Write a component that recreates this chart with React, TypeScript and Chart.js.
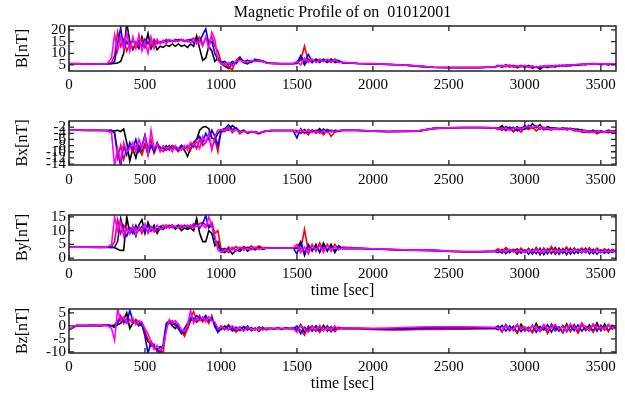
import React, { useEffect, useRef } from "react";
import { Chart, registerables } from "chart.js";

Chart.register(...registerables);

// ---------- data ----------
const TIME = [
  0, 50, 100, 150, 200, 250, 280,
  300, 320, 340, 360, 380, 400, 420, 440, 460, 480, 500, 520,
  540, 560, 580, 600, 620, 640, 660, 680, 700, 720, 740, 760,
  780, 800, 820, 840, 860, 880, 900, 920, 940, 960, 980, 1000,
  1025, 1050, 1075, 1100, 1125, 1150, 1175, 1200,
  1225, 1250, 1275, 1300, 1325, 1350, 1375, 1400,
  1425, 1450, 1475, 1500, 1525, 1550, 1575, 1600,
  1625, 1650, 1675, 1700, 1725, 1750, 1775, 1800,
  1900, 2000, 2100, 2200, 2300, 2400, 2500, 2600, 2700, 2800,
  2825, 2850, 2875, 2900, 2925, 2950, 2975, 3000,
  3025, 3050, 3075, 3100, 3125, 3150, 3175, 3200,
  3225, 3250, 3275, 3300, 3325, 3350, 3375, 3400,
  3425, 3450, 3475, 3500, 3525, 3550, 3575, 3600,
];

const X_TICKS = [0, 500, 1000, 1500, 2000, 2500, 3000, 3500];
const B_TICKS = [5, 10, 15, 20];
const BX_TICKS = [-2, -4, -6, -8, -10, -12, -14];
const BY_TICKS = [0, 5, 10, 15];
const BZ_TICKS = [5, 0, -5, -10];

// |B|
const B_BLACK = [
  5.6, 5.6, 5.5, 5.5, 5.5, 5.5, 5.6,
  5.6, 5.8, 6.5, 10, 23, 15,
  11.5, 14, 12, 17, 13, 18.5,
  12, 15, 11.5, 13, 12.5, 13.5,
  13, 14, 13, 14, 13, 13.5,
  12.5, 14, 13, 17.5, 12, 7,
  8, 13, 11, 6.5, 8, 5.5,
  4.5, 3.5, 5.5, 6, 7.5, 6, 5.5, 6.5,
  7, 6.5, 6.5, 6, 5.8, 5.7, 5.6, 5.6,
  5.6, 5.6, 5.6, 6, 8, 5, 7.5, 6,
  7.5, 6.5, 7, 6, 7.5, 6, 6.5, 6,
  5.6, 5.4, 5.2, 5.0, 4.5, 4.0, 3.9, 3.9, 3.9, 4.1,
  4.8, 4.0, 5.0, 4.2, 4.8, 3.8, 4.6, 4.0,
  4.8, 3.6, 4.4, 3.2, 4.4, 3.8, 4.6, 4.2,
  4.8, 4.4, 4.9, 4.6, 5.2, 4.8, 5.4, 5.0,
  5.5, 5.2, 5.6, 5.0, 5.4, 5.0, 5.5, 5.2,
];
const B_BLUE = [
  5.5, 5.5, 5.4, 5.4, 5.4, 5.4, 5.5,
  6.5, 14, 21, 12, 15, 12.5,
  16, 13, 15.5, 13, 16, 14,
  15.5, 13.5, 15, 14.5, 15.5, 15,
  15.5, 15, 16, 15.5, 16, 15.5,
  15, 16, 14.5, 16, 15, 18,
  20.5, 14, 15, 10, 7, 6,
  6.5, 5, 6.5, 5.5, 8, 6.5, 7, 6,
  7.5, 7, 6.8, 6, 5.7, 5.6, 5.6, 5.5,
  5.5, 5.5, 5.5, 5.6, 9, 6, 9.5, 6.5,
  7, 6, 7.5, 6.5, 7, 6.5, 7, 6,
  5.6, 5.4, 5.2, 5.0, 4.4, 3.9, 3.8, 3.8, 3.8, 4.0,
  4.6, 4.2, 4.9, 4.4, 4.6, 4.0, 4.8, 4.2,
  4.6, 4.0, 4.2, 3.6, 4.6, 4.0, 4.4, 4.6,
  4.4, 4.8, 4.6, 5.0, 4.8, 5.2, 5.0, 5.4,
  5.2, 5.6, 5.3, 5.4, 5.2, 5.4, 5.2, 5.3,
];
const B_RED = [
  5.5, 5.5, 5.5, 5.5, 5.4, 5.5, 6,
  9, 19, 13, 16, 11, 14,
  12, 15, 13.5, 16, 12.5, 15,
  13, 16, 14, 15, 14.5, 16,
  15, 15.5, 15, 16, 15.5, 15,
  16, 15.5, 16.5, 15, 17, 14,
  16.5, 15, 17, 13, 11, 6.5,
  5.5, 4, 3, 7, 8.5, 6, 7, 6.5,
  7, 7.2, 6.5, 5.8, 5.6, 5.5, 5.5, 5.5,
  5.5, 5.5, 5.5, 6, 7, 13, 6.5, 7,
  6.5, 7.5, 6.5, 7, 6, 7.5, 6.5, 6,
  5.7, 5.6, 5.3, 5.0, 4.5, 4.0, 3.9, 3.9, 3.9, 4.1,
  4.4, 4.8, 4.2, 5.0, 4.0, 4.6, 4.2, 4.8,
  4.0, 4.6, 3.8, 4.4, 4.0, 4.8, 4.0, 4.4,
  4.6, 4.8, 4.6, 5.0, 5.0, 5.2, 5.2, 5.4,
  5.4, 5.6, 5.5, 5.2, 5.5, 5.2, 5.4, 5.3,
];
const B_MAGENTA = [
  5.5, 5.5, 5.4, 5.4, 5.4, 5.5, 8,
  18, 11, 17, 12, 19, 11,
  17, 12, 18, 11, 15, 10,
  17, 12, 16, 14, 15.5, 14,
  16, 15, 15.5, 15, 16, 15,
  15.5, 14.5, 16, 14, 15.5, 13,
  17, 12, 19, 16, 7, 5.5,
  5, 6, 4.5, 6.5, 7, 6.5, 6, 7,
  6.5, 6.8, 6.5, 5.8, 5.6, 5.6, 5.5, 5.5,
  5.5, 5.5, 5.5, 6.5, 5, 8, 6, 7.5,
  6, 7, 6.5, 7.5, 6.5, 7, 6, 6.2,
  5.6, 5.5, 5.3, 5.0, 4.5, 4.0, 3.9, 3.9, 3.9, 4.1,
  4.5, 4.4, 4.7, 4.6, 4.3, 4.5, 4.4, 4.6,
  4.3, 4.4, 4.1, 4.3, 4.5, 4.6, 4.3, 4.8,
  4.7, 4.6, 4.9, 5.0, 5.1, 5.2, 5.3, 5.4,
  5.3, 5.5, 5.4, 5.6, 5.3, 5.5, 5.4, 5.5,
];

// Bx
const BX_BLACK = [
  -3.0, -3.0, -3.1, -3.1, -3.1, -3.1, -3.1,
  -3.2, -3.0, -3.4, -2.6, -7, -13,
  -9, -12, -8, -10, -7.5, -11,
  -8, -9.5, -8, -8.5, -9, -8,
  -9, -8, -8.5, -9, -8, -9.5,
  -11.5, -9, -7, -6, -3, -2,
  -1.8, -2.5, -5.5, -6, -4, -3,
  -2.5, -3, -1.5, -2.5, -3.5, -3, -4, -3.5,
  -3.5, -4, -3.5, -3.2, -3.2, -3.1, -3.1, -3.1,
  -3.1, -3.1, -3.1, -3.5, -4, -2.8, -3.8, -3,
  -3.5, -2.5, -4, -2.8, -3.5, -3, -3.2, -3,
  -3.0, -3.3, -3.4, -3.4, -3.3, -2.4, -2.2, -2.1, -2.1, -2.2,
  -2.5, -1.5, -3, -2, -3.5, -1.8, -2.8, -1.5,
  -2.5, -0.8, -2.2, -1.2, -2.8, -1.8, -2.4, -2.2,
  -2.6, -2.2, -2.6, -2.4, -2.8, -2.6, -3.2, -3,
  -3.6, -3, -3.8, -3.2, -3.6, -3, -3.4, -3.2,
];
const BX_BLUE = [
  -3.0, -3.0, -3.0, -3.0, -3.0, -3.1, -3.1,
  -4, -10, -14.5, -8, -11, -7,
  -9, -6, -10, -8, -4.5, -9,
  -8, -10, -7, -9, -8.5, -9.5,
  -8, -9, -8.5, -9.5, -8, -8.5,
  -9, -7.5, -8.5, -6, -5, -7,
  -4, -6, -3, -5, -8, -3.5,
  -2.5, -1.2, -2.8, -2.2, -3.5, -3.2, -3.8, -3.6,
  -3.4, -4, -3.6, -3.3, -3.1, -3.1, -3.1, -3.1,
  -3.1, -3.1, -3.1, -5.5, -2.5, -4, -2.8, -3.6,
  -3, -3.8, -2.6, -3.4, -3, -3.6, -3.2, -3,
  -3.1, -3.3, -3.4, -3.3, -3.2, -2.4, -2.2, -2.1, -2.1, -2.2,
  -2.2, -3, -1.8, -2.6, -2, -3.2, -2.2, -2.8,
  -1.4, -2.4, -1.6, -2.6, -2, -2.8, -2.2, -2.6,
  -2.4, -2.8, -2.3, -2.7, -2.6, -3, -2.8, -3.4,
  -3.2, -3.8, -3.1, -3.6, -3.4, -3.8, -3.2, -3.4,
];
const BX_RED = [
  -3.0, -3.0, -3.0, -3.1, -3.1, -3.1, -3.0,
  -3.6, -12, -8, -12.5, -9, -8,
  -10, -8, -9, -11, -8, -9.5,
  -6, -10.5, -8, -9, -10, -8.5,
  -9.5, -8, -9, -10, -8.5, -9,
  -8, -9.5, -7, -9, -6, -8,
  -7, -5, -9, -6, -10, -3.5,
  -3.5, -2, -3.8, -2.5, -4.2, -3.2, -4, -3.4,
  -3.8, -4.2, -3.6, -3.3, -3.1, -3.1, -3.1, -3.1,
  -3.1, -3.1, -3.1, -3, -4, -3.2, -4.5, -3,
  -4, -3.2, -4.5, -3, -5, -3.5, -3.4, -3.1,
  -3.1, -3.3, -3.5, -3.4, -3.3, -2.5, -2.3, -2.2, -2.2, -2.3,
  -2.8, -2.2, -3.2, -2.4, -3.4, -2.6, -3.6, -2.2,
  -2.8, -2, -3.2, -2.2, -2.8, -2.6, -3, -2.4,
  -2.8, -2.4, -3, -2.6, -3.2, -3.2, -3.6, -3.6,
  -3.8, -3.4, -4.2, -3.6, -3.8, -3.2, -3.6, -3.4,
];
const BX_MAGENTA = [
  -3.0, -3.0, -3.0, -3.0, -3.1, -3.1, -4,
  -14.5, -9, -13, -7, -10, -9,
  -7, -10, -6, -9, -5, -11,
  -3, -9, -7.5, -10, -8, -9,
  -8.5, -10, -8, -9, -9.5, -8,
  -9.5, -7, -8, -6.5, -9, -5,
  -7, -4, -9.5, -5, -3, -2.8,
  -3, -2.4, -3.2, -2.8, -3.6, -3.4, -3.6, -3.4,
  -3.6, -3.8, -3.5, -3.3, -3.1, -3.1, -3.1, -3.1,
  -3.1, -3.1, -3.1, -3.8, -2.8, -3.5, -3, -3.8,
  -3.2, -4, -3.2, -3.8, -3.2, -3.5, -3.1, -3,
  -3.0, -3.3, -3.4, -3.3, -3.2, -2.4, -2.2, -2.1, -2.1, -2.2,
  -2.4, -2.6, -2.2, -3, -2.4, -2.2, -2.6, -2,
  -1.8, -2.2, -1.6, -2.4, -2.2, -2.4, -2.6, -2.4,
  -2.6, -2.5, -2.7, -2.6, -2.9, -3.1, -3.3, -3.2,
  -3.4, -3.6, -3.3, -3.5, -3.6, -3.4, -3.3, -3.5,
];

// By
const BY_BLACK = [
  4, 4, 4, 4, 4, 4, 3.9,
  3.8, 3.2, 2.8, 2.8, 15, 9,
  11, 8, 12, 14, 9, 13,
  10, 12, 9, 11, 10.5, 11.5,
  11, 12, 10.5, 11.5, 10, 11,
  10.5, 11, 10, 14.5, 9, 6,
  6, 10, 9, 4.5, 6, 2.5,
  2, 3.5, 1.5, 3, 2.5, 4, 2.5, 3.5,
  3, 4, 3.2, 3.6, 3.7, 3.7, 3.7, 3.7,
  3.7, 3.7, 3.6, 3.5, 6, 1, 5, 2.5,
  5, 2, 5.5, 2.5, 5, 2, 4.5, 3.5,
  3.6, 3.3, 3.1, 2.9, 2.9, 2.8, 2.5, 2.3, 2.3, 2.5,
  3, 1.8, 3.6, 2, 3, 1.5, 3.4, 2,
  3.5, 1.5, 3.8, 1.2, 3.6, 1.6, 3.8, 1.4,
  3.6, 1.8, 3.8, 1.5, 3.6, 1.8, 3.4, 2,
  3.6, 1.6, 3.4, 2, 3.2, 1.8, 3, 2.2,
];
const BY_BLUE = [
  4, 4, 4, 3.9, 3.9, 3.9, 3.9,
  4, 6, 14.5, 10, 8, 11,
  9, 12, 10, 11.5, 9.5, 12,
  10, 11, 10.5, 11.5, 11, 12,
  11.5, 12, 11, 12, 11.5, 12,
  11, 12, 11.5, 12.5, 11, 12.5,
  15.5, 11, 12, 7, 4, 3,
  3.5, 2, 3.8, 2.8, 3.5, 3, 4, 3.2,
  3.8, 3.4, 3.6, 3.7, 3.7, 3.7, 3.7, 3.7,
  3.7, 3.7, 3.7, 1.5, 5.5, 2, 4.5, 3,
  4, 2.5, 4.5, 3, 4, 2.8, 4.2, 3.4,
  3.5, 3.3, 3.1, 2.9, 2.8, 2.7, 2.4, 2.3, 2.3, 2.4,
  2, 3.2, 1.6, 3, 2.4, 3.4, 1.8, 3,
  1.4, 3.2, 1.6, 3.6, 1.2, 3.4, 1.6, 3.8,
  1.4, 3.4, 1.2, 3.6, 1.6, 3.2, 1.8, 3.6,
  1.6, 3.2, 1.4, 3, 1.8, 3.2, 2, 2.8,
];
const BY_RED = [
  4, 4, 4, 4, 3.9, 4, 4.2,
  6, 14, 9, 12, 10, 11,
  9, 10.5, 11.5, 9, 11, 10,
  11.5, 9.5, 10, 11.5, 12, 11,
  12, 11, 11.5, 12, 11, 11.5,
  12, 11, 12.5, 11.5, 12.5, 13,
  12, 11.5, 13, 9, 10, 3.5,
  2.5, 4, 3, 4.2, 3.2, 4.2, 3.5, 4.4,
  3.6, 4.4, 3.8, 3.8, 3.7, 3.7, 3.7, 3.7,
  3.7, 3.7, 3.7, 4, 3, 10.5, 2.5, 5,
  2.5, 5.5, 3, 5, 2.5, 5, 3, 4,
  3.7, 3.4, 3.2, 3.0, 3.0, 2.9, 2.6, 2.4, 2.4, 2.6,
  3.4, 2.2, 3.8, 2.6, 3.2, 2, 3.6, 2.4,
  3.2, 2, 3.6, 1.8, 3.4, 2.2, 4.2, 1.8,
  3.2, 2.2, 4, 2, 3.4, 2.4, 3.6, 2.2,
  3.8, 2, 3.6, 2.4, 3.4, 2.2, 3.2, 2.6,
];
const BY_MAGENTA = [
  4, 4, 4, 4, 4, 4, 5,
  15, 10, 13, 8, 11, 9,
  12, 8.5, 11, 10, 12.5, 9,
  11, 10, 12, 10.5, 11, 12,
  11, 12, 11.5, 11, 12, 11.5,
  11.5, 12, 11, 12, 11.5, 12,
  11, 15, 12, 8, 3, 2,
  3, 2.5, 4, 2.5, 4, 3, 3.5, 3,
  4, 3.2, 3.7, 3.6, 3.7, 3.7, 3.7, 3.7,
  3.7, 3.7, 3.7, 5, 2, 4, 1.5, 4.5,
  3, 4.5, 2, 4.5, 3, 4, 3.2, 3.6,
  3.6, 3.4, 3.2, 3.0, 2.9, 2.8, 2.5, 2.4, 2.4, 2.5,
  2.6, 2.8, 2.4, 3.2, 2.2, 2.8, 2.6, 2.2,
  2.8, 2.4, 3, 2.2, 2.6, 2.8, 2.4, 3,
  2.2, 2.8, 2.6, 2.4, 3, 2.6, 2.2, 2.8,
  2.6, 2.4, 2.8, 2.2, 2.6, 2.4, 2.6, 2.5,
];

// Bz
const BZ_BLACK = [
  -1.5, 0.2, 0, 0.3, 0, 0.4, 0,
  -0.5, 0.5, 1, 2.5, 5, -1,
  1, 2, 1.5, 0.5, -3, -6,
  -7, -8.5, -9, -8, -8.5, 0,
  1.5, 0, -1, 0.5, -2, -3,
  -1, 2, 3, 1.5, 2.5, 2,
  3, 2, 2.5, 1, -1, -1.5,
  0, -1.5, -0.5, -2, -0.5, -1.5, 0, -1.8,
  -0.8, -2, -0.5, -1.5, -0.8, -1.2, -0.6, -1.4,
  -0.6, -1, -0.8, -1.8, 0.5, -2.5, -0.5, -2,
  0, -1.8, 0.2, -2, -0.4, -1.5, -0.6, -1,
  -1, -1.2, -1.2, -1.0, -0.7, -0.6, -0.6, -0.6, -0.7, -0.8,
  0, -2, 0.5, -1.8, -0.2, -2.6, 0.6, -1.5,
  -0.5, -2.4, 1, -1.8, 0.4, -2.8, 0.6, -1.4,
  -0.4, -2.6, 0.8, -2, 0.5, -2.4, 1, -1.6,
  0.4, -2.2, 1.2, -1.8, 0.8, -2, 0.2, -1,
];
const BZ_BLUE = [
  -1.4, 0.1, 0.1, 0.2, 0.1, 0.3, 0,
  0, 1, 3, 2, 1, 6,
  2, 1.5, 0, 1, -4, -10.5,
  -6, -8, -9, -10.5, -7, 1,
  2, 0.5, 1, -1, -3, -1,
  1, 3, 2, 4, 3, 2.5,
  4, 2, 3, 0, -2.5, -1,
  -1, 0, -2, -0.5, -1.8, -0.2, -1.6, -0.6,
  -1.6, -0.4, -1.4, -0.8, -1, -1, -0.9, -1,
  -1, -0.9, -1.2, 0, -3, -0.5, -1.8, 0,
  -2, -0.4, -1.8, 0, -2.2, -0.6, -1.2, -0.8,
  -0.9, -1.1, -1.2, -1.1, -1.0, -0.9, -0.8, -0.8, -0.9, -0.9,
  -1.5, 0.2, -2, 0, -1.8, 0.4, -2.2, -0.4,
  -2, 0.2, -2.4, -0.2, -1.6, 0.4, -2.4, 0,
  -2, 0.2, -2.2, 0, -1.8, 0.4, -2, -0.2,
  -1.8, 0.6, -2, 0.2, -1.6, 0.4, -1.2, -0.6,
];
const BZ_RED = [
  -1.6, 0, 0.2, 0.1, 0.2, 0.3, 0.2,
  0.5, 2, 4, 1, 3, 2.5,
  1, 2.5, 1, 0, -2, -5,
  -8, -7, -10, -9, -10.5, 0,
  1, 2, 0, -1, -2, -4,
  -1, 3, 5.5, 2, 4, 1.5,
  3, 1, 4, -0.5, -2, 0,
  -1.5, 0.5, -1.2, -2.5, -0.5, -1.8, -0.8, -1.6,
  -1, -1.8, -0.8, -1.4, -1, -1.1, -1, -1.2,
  -1, -1.2, -0.8, -1, -1.5, -3.5, 0, -1.5,
  -0.5, -2.5, -0.4, -1.6, -0.2, -2.2, -0.6, -1.2,
  -1.2, -1.4, -1.5, -1.5, -1.4, -1.4, -1.3, -1.3, -1.2, -1.1,
  -0.5, -2.4, 0, -1.6, -0.8, -2.8, -0.2, -2,
  -0.6, -2.6, 0.2, -2.2, -0.4, -2.6, 0.4, -2,
  -0.8, -2.4, 0.4, -2.2, 0, -2.8, 0.6, -1.8,
  -0.6, -2.4, 0.4, -1.4, -0.2, -2.2, 0.2, -1.4,
];
const BZ_MAGENTA = [
  -1.2, 0.2, 0.1, 0.2, 0.3, 0.2, -1,
  -5.5, 6.5, 2, 3.5, 1, 2,
  3, 0.5, 2, 1.5, -1, -3,
  -6, -9, -7.5, -9.5, -8, -2,
  2.5, 1, 2, 0.5, -1.5, -2,
  0, 6, 1, 3, 2, 3.5,
  1.5, 3.5, 2, 1.5, -1, -0.5,
  -0.8, -1.6, 0, -1.2, -1, -2, -0.4, -1.2,
  -1.4, -0.8, -1.6, -1, -0.9, -1, -0.8, -1,
  -1, -0.8, -1, -2.5, 0.2, -1, -2.4, -0.4,
  -1.6, 0.2, -2, -0.6, -1.6, 0, -1.4, -0.8,
  -0.8, -0.9, -0.8, -0.6, -0.4, -0.3, -0.3, -0.3, -0.4, -0.5,
  -0.8, -1.6, 0.2, -1, -1.4, 0.6, -1.2, -0.6,
  -1.6, 0, -1, -1.8, 0.4, -1.2, -0.8, 0.6,
  -1.2, -0.4, -1.8, 0.8, -0.8, -1.4, 1.2, -0.6,
  -1.6, 0.8, -1, -0.4, -1.4, 0.6, -0.8, -1,
];

// ---------- presentation ----------
const FONT = "'Liberation Serif', 'Times New Roman', serif";
const COLORS = { black: "#000000", blue: "#0000ff", red: "#ff0000", magenta: "#ff00ff" };

type Panel = {
  label: string;
  ticks: number[];
  min: number;
  max: number;
  top: number;
  height: number;
  areaTop: number;
  areaBottom: number;
  tickPad: number;
  xTitle: boolean;
  title: string | null;
  black: number[];
  blue: number[];
  red: number[];
  magenta: number[];
};

const PANELS: Panel[] = [
  { label: "B[nT]", ticks: B_TICKS, min: 2.4, max: 21.7, top: 0, height: 100, areaTop: 26, areaBottom: 71, tickPad: 5, xTitle: false,
    title: "Magnetic Profile of on  01012001", black: B_BLACK, blue: B_BLUE, red: B_RED, magenta: B_MAGENTA },
  { label: "Bx[nT]", ticks: BX_TICKS, min: -14.3, max: 0, top: 100, height: 100, areaTop: 121, areaBottom: 165, tickPad: 6, xTitle: false,
    title: null, black: BX_BLACK, blue: BX_BLUE, red: BX_RED, magenta: BX_MAGENTA },
  { label: "By[nT]", ticks: BY_TICKS, min: -0.7, max: 15.7, top: 200, height: 100, areaTop: 215, areaBottom: 260, tickPad: 5, xTitle: true,
    title: null, black: BY_BLACK, blue: BY_BLUE, red: BY_RED, magenta: BY_MAGENTA },
  { label: "Bz[nT]", ticks: BZ_TICKS, min: -10.4, max: 6.5, top: 297, height: 96, areaTop: 309, areaBottom: 353, tickPad: 5, xTitle: true,
    title: null, black: BZ_BLACK, blue: BZ_BLUE, red: BZ_RED, magenta: BZ_MAGENTA },
];

const frameTicks = {
  id: "frameTicks",
  afterDatasetsDraw(chart: any) {
    const { ctx, chartArea: a, scales } = chart;
    ctx.save();
    ctx.strokeStyle = "#222";
    ctx.lineWidth = 1.5;
    ctx.strokeRect(a.left, a.top, a.right - a.left, a.bottom - a.top);
    ctx.lineWidth = 1.3;
    ctx.beginPath();
    for (const t of scales.x.ticks) {
      const px = scales.x.getPixelForValue(t.value);
      ctx.moveTo(px, a.bottom);
      ctx.lineTo(px, a.bottom - 5);
      ctx.moveTo(px, a.top);
      ctx.lineTo(px, a.top + 5);
    }
    for (const t of scales.y.ticks) {
      const py = scales.y.getPixelForValue(t.value);
      ctx.moveTo(a.left, py);
      ctx.lineTo(a.left + 5, py);
      ctx.moveTo(a.right, py);
      ctx.lineTo(a.right - 5, py);
    }
    ctx.stroke();
    ctx.restore();
  },
};

function PanelChart({ p }: { p: Panel }) {
  const ref = useRef<HTMLCanvasElement | null>(null);
  useEffect(() => {
    if (!ref.current) return;
    const mk = (arr: number[], color: string) => ({
      data: TIME.map((t, i) => ({ x: t, y: arr[i] })),
      borderColor: color,
      backgroundColor: color,
      borderWidth: 1.6,
      pointRadius: 0,
      tension: 0,
      fill: false,
    });
    const titleH = p.title ? 0 : p.areaTop - p.top;
    const chart = new Chart(ref.current, {
      type: "line",
      data: {
        datasets: [
          mk(p.magenta, COLORS.magenta),
          mk(p.blue, COLORS.blue),
          mk(p.red, COLORS.red),
          mk(p.black, COLORS.black),
        ],
      },
      options: {
        responsive: false,
        animation: false,
        maintainAspectRatio: false,
        events: [],
        layout: { padding: { top: titleH, right: 9, left: 0, bottom: 0 } },
        plugins: {
          legend: { display: false },
          tooltip: { enabled: false },
          title: p.title
            ? {
                display: true,
                text: p.title,
                fullSize: false,
                color: "#000",
                font: { family: FONT, size: 16, weight: "normal" },
                padding: { top: 3.5, bottom: 3.3 },
              }
            : { display: false },
        },
        scales: {
          x: {
            type: "linear",
            min: 0,
            max: 3600,
            afterBuildTicks: (s: any) => {
              s.ticks = X_TICKS.map((v) => ({ value: v }));
            },
            afterFit: (s: any) => {
              s.height = p.top + p.height - p.areaBottom;
            },
            grid: { display: false, drawTicks: false },
            border: { display: false },
            ticks: {
              color: "#000",
              font: { family: FONT, size: 15 },
              padding: p.tickPad,
              maxRotation: 0,
              autoSkip: false,
              callback: (v: any) => String(v),
            },
            title: {
              display: p.xTitle,
              text: "time [sec]",
              color: "#000",
              font: { family: FONT, size: 16 },
              padding: { top: 0, bottom: 0 },
            },
          },
          y: {
            type: "linear",
            min: p.min,
            max: p.max,
            afterBuildTicks: (s: any) => {
              s.ticks = p.ticks.map((v) => ({ value: v }));
            },
            afterFit: (s: any) => {
              s.width = 69;
            },
            grid: { display: false, drawTicks: false },
            border: { display: false },
            ticks: {
              color: "#000",
              font: { family: FONT, size: 15 },
              padding: 3,
              autoSkip: false,
              callback: (v: any) => String(v),
            },
            title: {
              display: true,
              text: p.label,
              color: "#000",
              font: { family: FONT, size: 16 },
              padding: { top: 13, bottom: 0 },
            },
          },
        },
      } as any,
      plugins: [frameTicks],
    });
    return () => chart.destroy();
  }, [p]);
  return (
    <canvas
      ref={ref}
      width={625}
      height={p.height}
      style={{ position: "absolute", left: 0, top: p.top, width: 625, height: p.height }}
    />
  );
}

export default function App() {
  useEffect(() => {
    document.body.style.margin = "0";
  }, []);
  return (
    <div style={{ position: "fixed", left: 0, top: 0, width: 625, height: 397, background: "#fff" }}>
      {PANELS.map((p, i) => (
        <PanelChart key={i} p={p} />
      ))}
    </div>
  );
}
